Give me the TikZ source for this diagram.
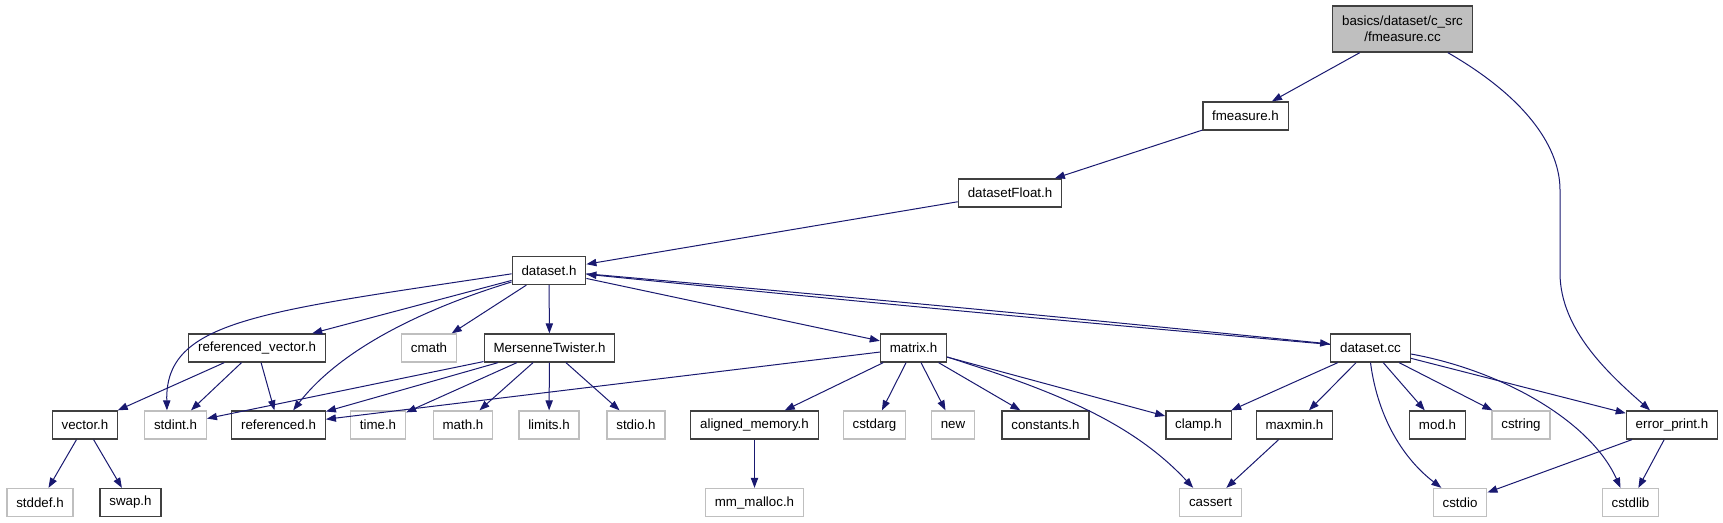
\documentclass[tikz,border=0pt]{standalone}
\usepackage{fontspec}
\setmainfont{Liberation Sans}
\usetikzlibrary{arrows.meta}

\definecolor{edgeblue}{HTML}{191970}
\definecolor{boxgray}{HTML}{BFBFBF}
\definecolor{boxline}{HTML}{404040}

\begin{document}
\begin{tikzpicture}[x=0.75pt,y=-0.75pt,
  filebox/.style={draw=boxline,line width=1pt,inner xsep=7pt,inner ysep=0pt,
    minimum height=21pt,font=\fontsize{10}{12}\selectfont},
  extbox/.style={filebox,draw=boxgray},
  rootbox/.style={filebox,fill=boxgray,align=center,minimum height=34.5pt},
  dep/.style={draw=edgeblue,line width=0.75pt,-{Triangle[length=7.5pt,width=5.5pt]}}]
  \useasboundingbox (0,0) rectangle (1723,523);

  \node[rootbox] (root) at (1402.5,29) {basics/dataset/c\_src\\/fmeasure.cc};
  \node[filebox] (fmeasure) at (1245.5,116) {fmeasure.h};
  \node[filebox] (dsfloat) at (1010,193) {datasetFloat.h};
  \node[filebox] (dataseth) at (549,270.5) {dataset.h};

  \node[filebox] (refvector) at (257,348) {referenced\_vector.h};
  \node[extbox] (cmath) at (429,348) {cmath};
  \node[filebox] (twister) at (549.5,348) {MersenneTwister.h};
  \node[filebox] (matrix) at (913.5,348) {matrix.h};
  \node[filebox] (datasetcc) at (1370.5,348) {dataset.cc};

  \node[filebox] (vector) at (85,425) {vector.h};
  \node[extbox] (stdint) at (175.5,425) {stdint.h};
  \node[filebox] (referenced) at (278.5,425) {referenced.h};
  \node[extbox] (timeh) at (378,425) {time.h};
  \node[extbox] (mathh) at (463,425) {math.h};
  \node[extbox] (limits) at (549,425) {limits.h};
  \node[extbox] (stdio) at (636,425) {stdio.h};
  \node[filebox] (aligned) at (754.5,425) {aligned\_memory.h};
  \node[extbox] (cstdarg) at (874.5,425) {cstdarg};
  \node[extbox] (cnew) at (953,425) {new};
  \node[filebox] (constants) at (1045.5,425) {constants.h};
  \node[filebox] (clamp) at (1198.5,425) {clamp.h};
  \node[filebox] (maxmin) at (1294.5,425) {maxmin.h};
  \node[filebox] (modh) at (1437.5,425) {mod.h};
  \node[extbox] (cstring) at (1521,425) {cstring};
  \node[filebox] (errorprint) at (1672,425) {error\_print.h};

  \node[extbox] (stddef) at (40,502.5) {stddef.h};
  \node[filebox] (swap) at (130.5,502.5) {swap.h};
  \node[extbox] (mmmalloc) at (754.5,502.5) {mm\_malloc.h};
  \node[extbox] (cassert) at (1210.5,502.5) {cassert};
  \node[extbox] (cstdio) at (1460,502.5) {cstdio};
  \node[extbox] (cstdlib) at (1630.5,502.5) {cstdlib};

  \draw[dep] (root) -- (fmeasure);
  \draw[dep] ([xshift=34pt]root.south) .. controls (1530,100) and (1560,150) .. (1560,190)
    -- (1560,273) .. controls (1560,330) and (1610,375) .. ([xshift=-16.5pt]errorprint.north);
  \draw[dep] (fmeasure) -- (dsfloat);
  \draw[dep] (dsfloat) -- (dataseth);

  \draw[dep] (dataseth) -- (refvector);
  \draw[dep] ([yshift=-2.5pt]dataseth.west) .. controls (260,312) and (165,320)
    .. ([xshift=-6.4pt]stdint.north);
  \draw[dep] ([yshift=-8.6pt]dataseth.west) .. controls (420,310) and (340,350)
    .. ([xshift=11pt]referenced.north);
  \draw[dep] (dataseth) -- (cmath);
  \draw[dep] (dataseth) -- (twister);
  \draw[dep] (dataseth) -- (matrix);
  \draw[dep] (dataseth) to[bend left=0.35] (datasetcc);
  \draw[dep] (datasetcc) to[bend left=0.35] (dataseth);

  \draw[dep] (refvector) -- (vector);
  \draw[dep] (refvector) -- (stdint);
  \draw[dep] (refvector) -- (referenced);
  \draw[dep] (vector) -- (stddef);
  \draw[dep] (vector) -- (swap);

  \draw[dep] (twister) -- (stdint);
  \draw[dep] (twister) -- (referenced);
  \draw[dep] (twister) -- (timeh);
  \draw[dep] (twister) -- (mathh);
  \draw[dep] (twister) -- (limits);
  \draw[dep] (twister) -- (stdio);

  \draw[dep] (matrix) -- (referenced);
  \draw[dep] (matrix) -- (aligned);
  \draw[dep] (matrix) -- (cstdarg);
  \draw[dep] (matrix) -- (cnew);
  \draw[dep] (matrix) -- (constants);
  \draw[dep] (matrix) -- (clamp);
  \draw[dep] ([yshift=-6.75pt]matrix.east) .. controls (1050,390) and (1130,420)
    .. ([xshift=-13pt]cassert.north);
  \draw[dep] (aligned) -- (mmmalloc);

  \draw[dep] (datasetcc) -- (clamp);
  \draw[dep] (datasetcc) -- (maxmin);
  \draw[dep] (datasetcc.south) .. controls (1378,420) and (1405,460)
    .. ([xshift=-14pt]cstdio.north);
  \draw[dep] (datasetcc) -- (modh);
  \draw[dep] (datasetcc) -- (cstring);
  \draw[dep] (datasetcc) -- (errorprint);
  \draw[dep] ([yshift=-4.5pt]datasetcc.east) .. controls (1500,370) and (1590,420)
    .. ([xshift=-7.5pt]cstdlib.north);
  \draw[dep] (maxmin) -- (cassert);
  \draw[dep] (errorprint) -- (cstdio);
  \draw[dep] (errorprint) -- (cstdlib);
\end{tikzpicture}
\end{document}
